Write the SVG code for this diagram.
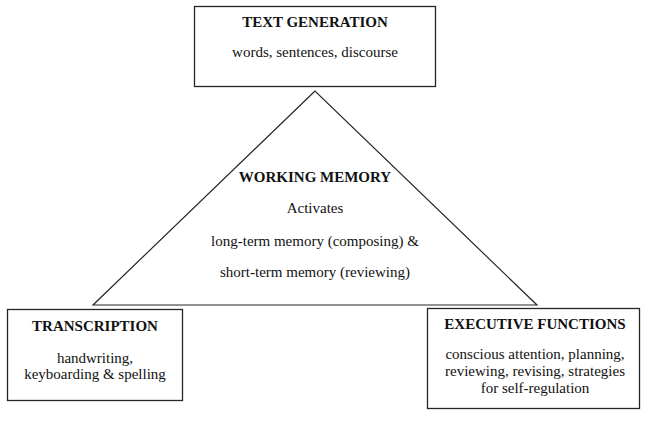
<svg xmlns="http://www.w3.org/2000/svg" width="648" height="428" viewBox="0 0 648 428">
<style>
.box{fill:#fff;stroke:#262626;stroke-width:1.3}
.edge{fill:none;stroke:#262626;stroke-width:1.2}
text{font-family:"Liberation Serif","Times New Roman",serif;fill:#111;text-anchor:middle}
.t{font-weight:bold;font-size:15px}
.b{font-size:15px}
</style>
<rect width="648" height="428" fill="#fff"/>
<g id="connectors">
<polygon class="edge" points="315,91 93,305 537,305"/>
</g>
<g id="text-generation">
<rect class="box" x="194.5" y="6.5" width="241" height="80"/>
<text class="t" x="315" y="27">TEXT GENERATION</text>
<text class="b" x="315" y="57">words, sentences, discourse</text>
</g>
<g id="working-memory">
<text class="t" x="315" y="182">WORKING MEMORY</text>
<text class="b" x="315" y="213">Activates</text>
<text class="b" x="315" y="246">long-term memory (composing) &amp;</text>
<text class="b" x="315" y="277">short-term memory (reviewing)</text>
</g>
<g id="transcription">
<rect class="box" x="7.5" y="309.5" width="175" height="91"/>
<text class="t" x="95" y="331">TRANSCRIPTION</text>
<text class="b" x="95" y="363">handwriting,</text>
<text class="b" x="95" y="379">keyboarding &amp; spelling</text>
</g>
<g id="executive-functions">
<rect class="box" x="427.5" y="308.5" width="212" height="100"/>
<text class="t" x="535" y="329">EXECUTIVE FUNCTIONS</text>
<text class="b" x="535" y="359">conscious attention, planning,</text>
<text class="b" x="535" y="376">reviewing, revising, strategies</text>
<text class="b" x="535" y="393">for self-regulation</text>
</g>
</svg>
